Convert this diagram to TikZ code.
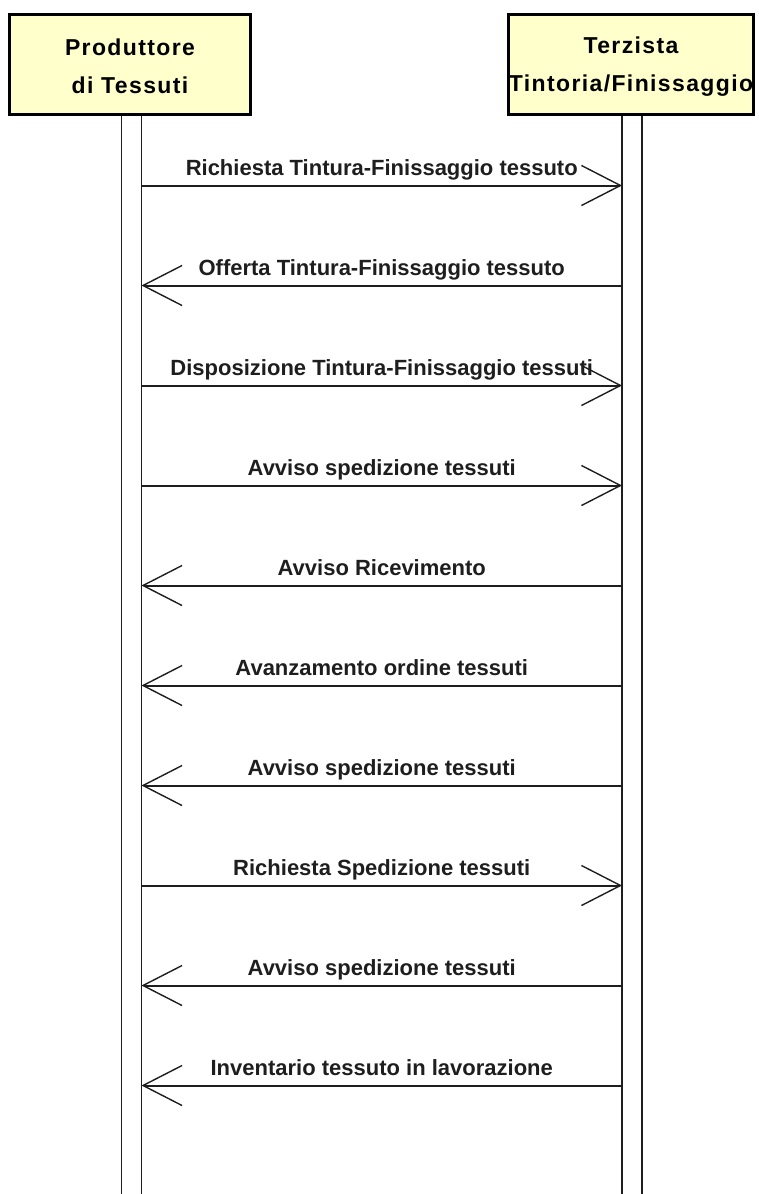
\documentclass[tikz,border=0pt]{standalone}
\usepackage{fontspec}
\setmainfont{Liberation Sans}
\newfontfamily\titlefont[LetterSpace=6]{Liberation Sans}
\usetikzlibrary{arrows.meta}
\definecolor{actfill}{RGB}{255,255,204}
\definecolor{ink}{RGB}{30,30,30}
\begin{document}
\begin{tikzpicture}[x=1pt,y=-1pt,
  actor/.style={draw=black, line width=3pt, fill=actfill, minimum width=241pt,
    minimum height=100pt, inner sep=0pt, align=center,
    font=\titlefont\bfseries\fontsize{23}{38}\selectfont},
  life/.style={draw=ink, line width=1.8pt},
  msg/.style={draw=ink, line width=2pt,
    -{Straight Barb[length=39pt,width=40pt,line width=1.4pt]}},
  lbl/.style={anchor=base, yshift=10pt, inner sep=0pt,
    font=\bfseries\fontsize{22}{26}\selectfont, text=ink}]
\useasboundingbox (0,0) rectangle (759,1194);
% actors
\node[actor] (A) at (130,64.5) {\rule{0pt}{21pt}Produttore\\di Tessuti};
\node[actor] (B) at (631,64.5) {\rule{0pt}{21pt}Terzista\\Tintoria/Finissaggio};
% lifelines
\coordinate (A1) at (121.5,116);
\coordinate (A2) at (141.5,116);
\coordinate (B1) at (622,116);
\coordinate (B2) at (642,116);
\coordinate (A1e) at (121.5,1194);
\coordinate (A2e) at (141.5,1194);
\coordinate (B1e) at (622,1194);
\coordinate (B2e) at (642,1194);
\draw[life] (A1) -- (A1e);
\draw[life] (A2) -- (A2e);
\draw[life] (B1) -- (B1e);
\draw[life] (B2) -- (B2e);
% message anchors
\foreach \i/\y in {1/185.5,2/285.5,3/385.5,4/485.5,5/585.5,6/685.5,7/785.5,8/885.5,9/985.5,10/1085.5}{
  \coordinate (L\i) at (141.5,\y);
  \coordinate (R\i) at (622,\y);
}
\draw[msg] (L1) -- node[lbl]{Richiesta Tintura-Finissaggio tessuto} (R1);
\draw[msg] (R2) -- node[lbl]{Offerta Tintura-Finissaggio tessuto} (L2);
\draw[msg] (L3) -- node[lbl]{Disposizione Tintura-Finissaggio tessuti} (R3);
\draw[msg] (L4) -- node[lbl]{Avviso spedizione tessuti} (R4);
\draw[msg] (R5) -- node[lbl]{Avviso Ricevimento} (L5);
\draw[msg] (R6) -- node[lbl]{Avanzamento ordine tessuti} (L6);
\draw[msg] (R7) -- node[lbl]{Avviso spedizione tessuti} (L7);
\draw[msg] (L8) -- node[lbl]{Richiesta Spedizione tessuti} (R8);
\draw[msg] (R9) -- node[lbl]{Avviso spedizione tessuti} (L9);
\draw[msg] (R10) -- node[lbl]{Inventario tessuto in lavorazione} (L10);
\end{tikzpicture}
\end{document}
